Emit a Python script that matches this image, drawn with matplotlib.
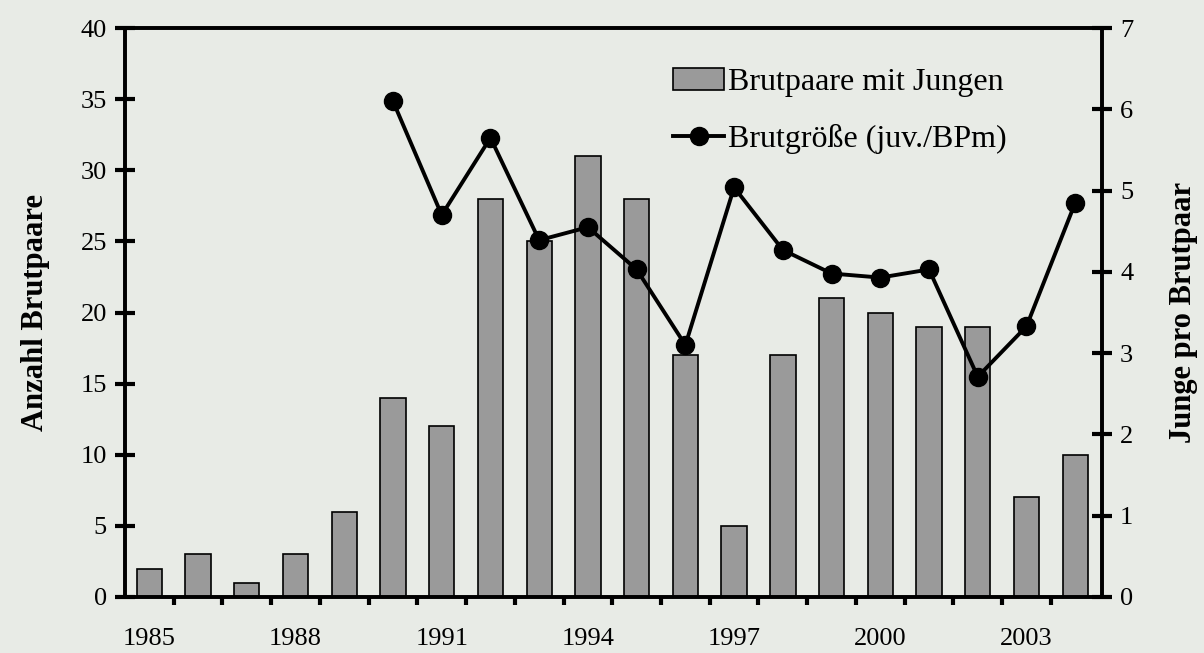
import matplotlib
matplotlib.use("Agg")
import matplotlib.pyplot as plt
from matplotlib.ticker import MultipleLocator

# Daten
years = list(range(1985, 2005))
brutpaare = [2, 3, 1, 3, 6, 14, 12, 28, 25, 31, 28, 17, 5, 17, 21, 20, 19, 19, 7, 10]
brut_years = list(range(1990, 2005))
brutgroesse = [6.1, 4.7, 5.65, 4.39, 4.55, 4.03, 3.1, 5.04, 4.27, 3.98, 3.93, 4.03, 2.71, 3.33, 4.85]
label_years = [1985, 1988, 1991, 1994, 1997, 2000, 2003]

BG = "#e8ebe6"
BAR = "#9a9a9a"
FONT = ["Liberation Serif", "DejaVu Serif"]
plt.rcParams["font.family"] = FONT

fig = plt.figure(figsize=(12.04, 6.53), dpi=100, facecolor=BG)
ax = fig.add_axes([0.1038, 0.0858, 0.8115, 0.8712])
ax.set_facecolor(BG)
ax2 = ax.twinx()

bars = ax.bar(years, brutpaare, width=0.52, color=BAR, edgecolor="black",
              linewidth=1.2, label="Brutpaare mit Jungen", zorder=2)
line, = ax2.plot(brut_years, brutgroesse, color="black", lw=2.8, marker="o",
                 markersize=13, label="Brutgröße (juv./BPm)", zorder=3)

ax.set_xlim(1984.5, 2004.55)
ax.set_ylim(0, 40)
ax2.set_ylim(0, 7)

ax.set_xticks(label_years)
ax.set_xticks([y + 0.5 for y in years[:-1]], minor=True)
ax.tick_params(axis="x", which="major", length=0, pad=22, labelsize=19)
ax.tick_params(axis="x", which="minor", length=6, width=3, direction="out")
ax.yaxis.set_major_locator(MultipleLocator(5))
ax.tick_params(axis="y", direction="inout", length=14, width=3, labelsize=19, pad=6)
ax2.yaxis.set_major_locator(MultipleLocator(1))
ax2.tick_params(axis="y", direction="inout", length=14, width=3, labelsize=19, pad=6)

for a in (ax, ax2):
    for s in a.spines.values():
        s.set_linewidth(2.6)

ax.set_ylabel("Anzahl Brutpaare", fontsize=22, fontweight="bold", labelpad=22)
ax2.set_ylabel("Junge pro Brutpaar", fontsize=22, fontweight="bold", labelpad=26)

ax2.legend([bars, line], ["Brutpaare mit Jungen", "Brutgröße (juv./BPm)"],
           loc="upper left", bbox_to_anchor=(0.561, 0.93), frameon=False,
           fontsize=23, handlelength=1.6, handletextpad=0.12, labelspacing=0.85,
           borderaxespad=0, borderpad=0)

fig.savefig("out.png", dpi=100, facecolor=BG)
